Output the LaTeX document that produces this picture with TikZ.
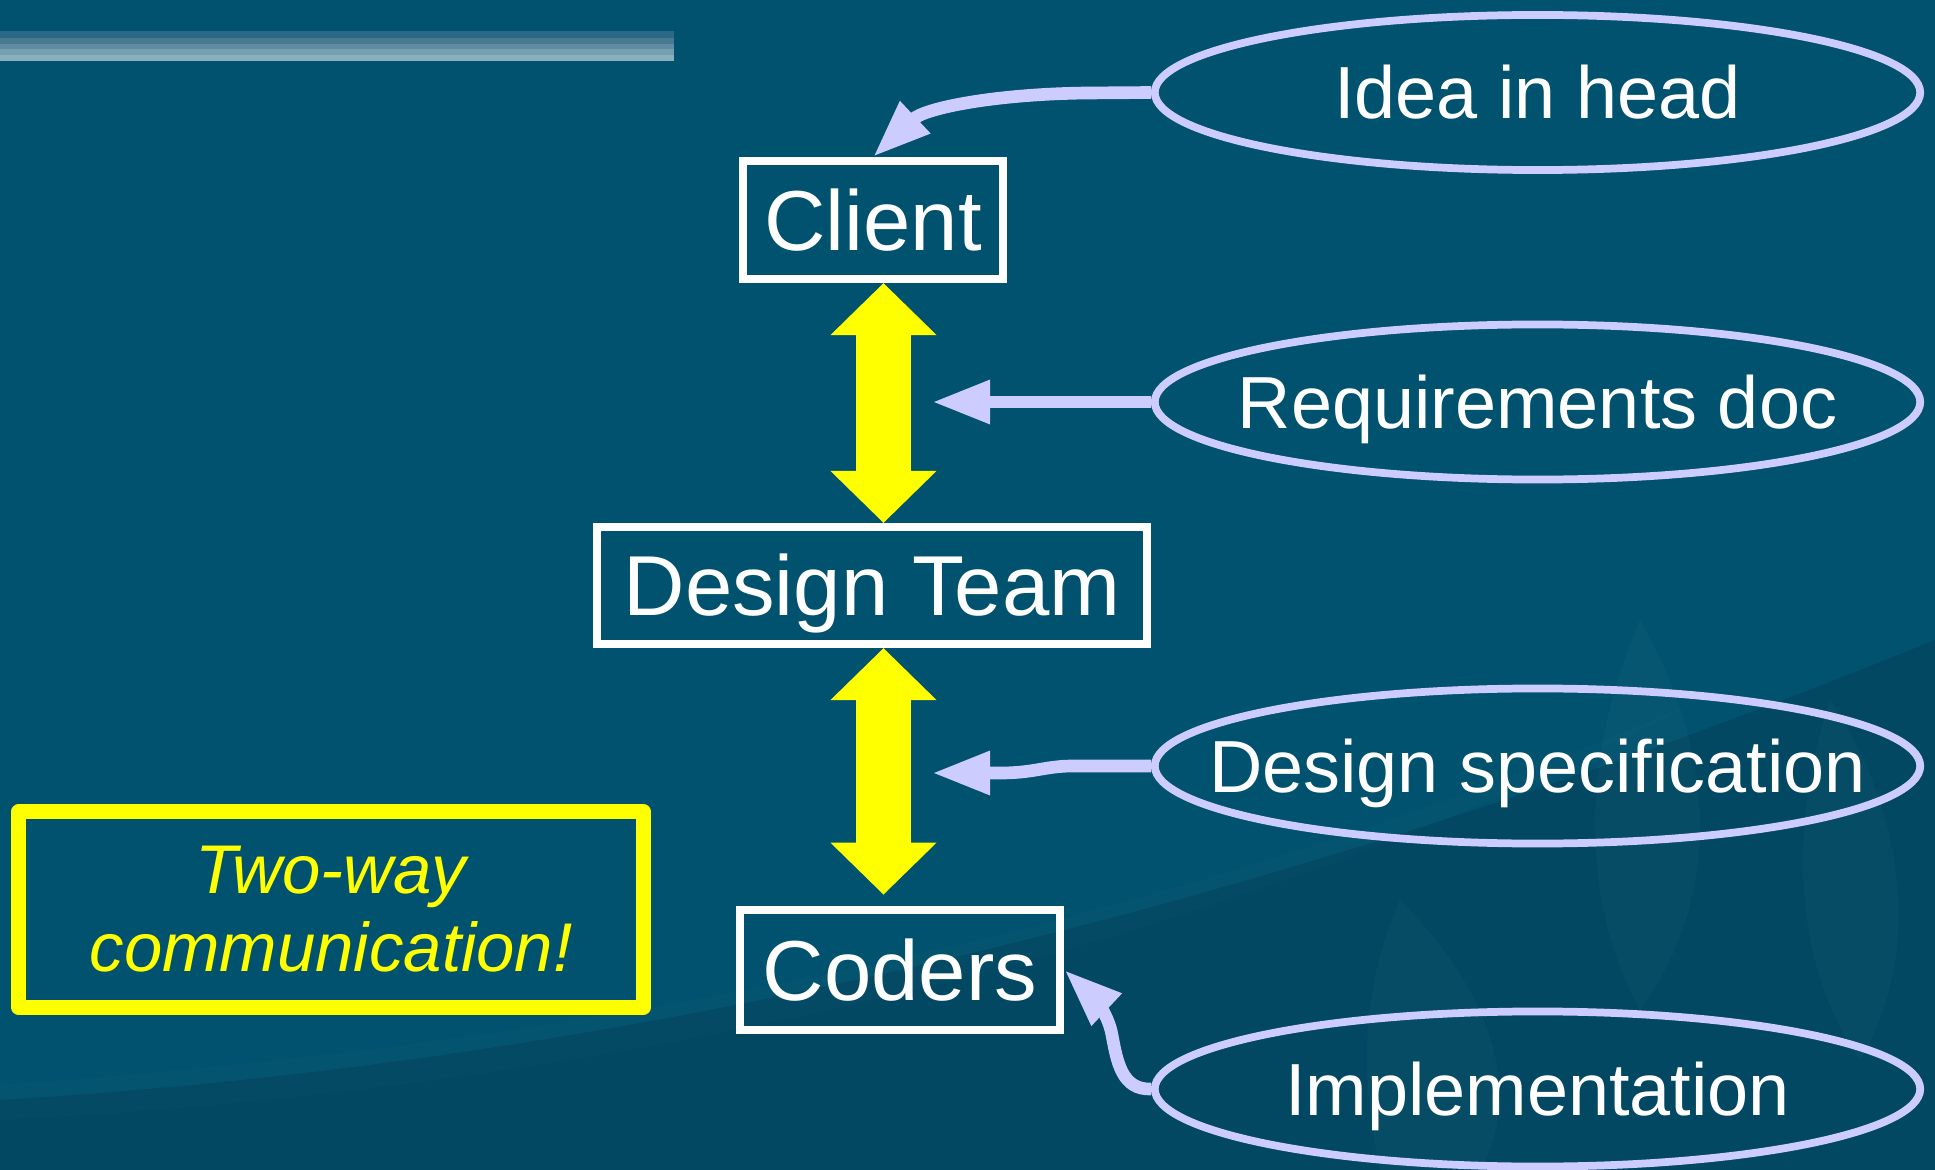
\documentclass[tikz,border=0pt]{standalone}
\usepackage{fontspec}
\setmainfont{Liberation Sans}
\usetikzlibrary{arrows.meta,shapes.geometric}
\definecolor{bgtop}{HTML}{01526E}
\definecolor{bgdeep}{HTML}{024862}
\definecolor{lav}{HTML}{CCCCFF}
\definecolor{hiyel}{HTML}{FFFF00}
\definecolor{band1}{HTML}{2A6885}
\definecolor{band2}{HTML}{47798F}
\definecolor{band3}{HTML}{5E8DA1}
\definecolor{band4}{HTML}{76A0B0}
\definecolor{band5}{HTML}{8BB0BD}

\begin{document}
\begin{tikzpicture}[x=0.01cm, y=-0.01cm,
  box/.style={draw=white, line width=2.3pt, inner sep=0pt, text=white,
    font=\fontsize{24.2pt}{29pt}\selectfont, text height=17.3pt, text depth=0pt},
  oval/.style={ellipse, draw=lav, line width=2.2pt, minimum width=7.65cm,
    minimum height=1.55cm, inner sep=0pt},
  ovaltext/.style={text=white, font=\fontsize{21pt}{25pt}\selectfont,
    text height=15pt, text depth=0pt, inner sep=0pt},
  notebox/.style={draw=hiyel, line width=4.27pt, line join=round,
    minimum width=6.237cm, minimum height=1.96cm, inner sep=0pt,
    text=hiyel, align=center, font=\fontsize{19.6pt}{22.2pt}\selectfont\itshape},
  feed/.style={draw=lav, line width=3.6pt, -{Triangle[length=16.5pt,width=11.6pt]}},
  dbl/.style={draw=hiyel, line width=15.9pt,
    {Triangle[length=14.8pt,width=29.3pt]}-{Triangle[length=14.8pt,width=29.3pt]}},
  leaf/.style={fill=white, fill opacity=0.022, draw=none}
]
\useasboundingbox (0,0) rectangle (1935,1170);

% background
\fill[bgtop] (0,0) rectangle (1935,1170);
\fill[bgdeep] (0,1100) .. controls (500,1070) and (1150,960) .. (1935,640)
  -- (1935,1170) -- (0,1170) -- cycle;
\fill[white, fill opacity=0.015] (0,1085) .. controls (500,1050) and (1100,960) .. (1700,700)
  .. controls (1150,990) and (500,1095) .. (0,1120) -- cycle;
\fill[leaf] (1640,620) .. controls (1720,760) and (1720,900) .. (1640,1010)
  .. controls (1580,900) and (1580,760) .. cycle;
\fill[leaf] (1830,700) .. controls (1910,820) and (1920,960) .. (1860,1060)
  .. controls (1790,960) and (1790,820) .. cycle;
\fill[leaf] (1400,900) .. controls (1500,1000) and (1520,1100) .. (1480,1170)
  -- (1380,1170) .. controls (1360,1080) and (1360,990) .. cycle;

% title stripe
\fill[band1] (0,31) rectangle (674,38);
\fill[band2] (0,38) rectangle (674,44);
\fill[band3] (0,44) rectangle (674,49);
\fill[band4] (0,49) rectangle (674,55);
\fill[band5] (0,55) rectangle (674,61);

% roles
\node[box, minimum width=2.60cm, minimum height=1.18cm] (client) at (873,220) {Client};
\node[box, minimum width=5.50cm, minimum height=1.17cm] (team) at (872,585.5) {Design Team};
\node[box, minimum width=3.205cm, minimum height=1.205cm] (coders) at (900,970) {Coders};

% artefacts
\node[oval] (idea) at (1537.5,92.5) {};
\node[ovaltext] at (idea.center) {Idea in head};
\node[oval] (req) at (1537.5,402) {};
\node[ovaltext] at (req.center) {Requirements doc};
\node[oval] (spec) at (1537.5,766) {};
\node[ovaltext] at (spec.center) {Design specification};
\node[oval] (impl) at (1537.5,1089) {};
\node[ovaltext] at (impl.center) {Implementation};

% note
\node[notebox] (note) at (331,909.5) {Two-way\\communication!};

% two-way links
\coordinate (ax) at (883.5,0);
\coordinate (codtop) at ([yshift=0.11cm]coders.north);
\draw[dbl] (client.south -| ax) -- (team.north -| ax);
\draw[dbl] (team.south -| ax) -- (codtop -| ax);

% documents handed on
\coordinate (reqtip) at (932,402);
\coordinate (spectip) at (932,773);
\draw[feed] (idea.west) -- (1087,93) .. controls (995,94) and (925,108) .. (client.north);
\draw[feed] (req.west) -- (reqtip);
\draw[feed] (spec.west) -- (1073,766) .. controls (1045,766) and (1035,773) .. (1000,773) -- (spectip);
\draw[feed] (impl.west) .. controls (1122,1090) and (1117,1062) .. (1112,1035)
  .. controls (1108,1012) and (1090,994) .. (coders.east);
\end{tikzpicture}
\end{document}
